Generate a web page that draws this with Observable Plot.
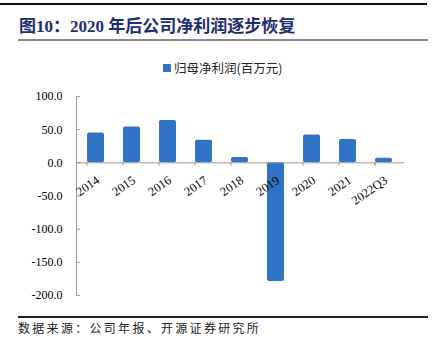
<!DOCTYPE html>
<html>
<head>
<meta charset="utf-8">
<script src="https://cdn.jsdelivr.net/npm/d3@7"></script>
<script src="https://cdn.jsdelivr.net/npm/@observablehq/plot@0.6"></script>
<style>
  html, body { margin: 0; padding: 0; background: #fff; }
  #wrap { position: relative; width: 437px; height: 354px; overflow: hidden; background: #fff; }
  .abs { position: absolute; }
  #topline { left: 0; top: 3px; width: 427px; height: 1.5px; background: #111; }
  #title { left: 19px; top: 17px; font-family: "Liberation Serif", "Noto Sans CJK SC", serif; font-weight: bold; font-size: 17px; color: #1B2F72; white-space: nowrap; line-height: 20px; }
  #titleline { left: 18px; top: 39px; width: 410px; height: 2px; background: #8a8a8a; }
  #legend { left: 163px; top: 60px; font-family: "Noto Sans CJK SC", sans-serif; font-size: 12.5px; line-height: 16px; color: #222; white-space: nowrap; display: flex; align-items: center; }
  #legend .sw { display: inline-block; width: 8px; height: 8px; margin-right: 3px; }
  #chart { left: 0; top: 80px; }
  #capline { left: 18px; top: 316px; width: 410px; height: 1.5px; background: #222; }
  #caption { left: 18px; top: 320px; font-family: "Noto Sans CJK SC", sans-serif; font-size: 12px; letter-spacing: 2.3px; color: #222; white-space: nowrap; line-height: 16px; }
</style>
</head>
<body>
<div id="wrap">
  <div id="topline" class="abs"></div>
  <div id="title" class="abs"></div>
  <div id="titleline" class="abs"></div>
  <div id="legend" class="abs"></div>
  <div id="chart" class="abs"></div>
  <div id="capline" class="abs"></div>
  <div id="caption" class="abs"></div>
</div>
<script>
const titleText = "图10：2020 年后公司净利润逐步恢复";
const seriesName = "归母净利润(百万元)";
const captionText = "数据来源：公司年报、开源证券研究所";
const categories = ["2014", "2015", "2016", "2017", "2018", "2019", "2020", "2021", "2022Q3"];
const profit = [45, 54, 64, 34, 8, -179, 42, 35, 7];
const yTicks = [100, 50, 0, -50, -100, -150, -200];
const barColor = "#3072C3";

document.getElementById("title").textContent = titleText;
document.getElementById("caption").textContent = captionText;
const lg = document.getElementById("legend");
const sw = document.createElement("span");
sw.className = "sw"; sw.style.background = barColor;
lg.appendChild(sw);
lg.appendChild(document.createTextNode(seriesName));

const data = categories.map((c, i) => ({cat: c, value: profit[i]}));

const W = 437, H = 230, mL = 76, mR = 33, mT = 16, mB = 15;
const bw = (W - mL - mR) / categories.length;
const edges = categories.map((c, i) => ({cat: c, dx: -bw / 2}))
  .concat([{cat: categories[categories.length - 1], dx: bw / 2}]);

const chart = Plot.plot({
  width: W,
  height: H,
  marginLeft: mL,
  marginRight: mR,
  marginTop: mT,
  marginBottom: mB,
  style: {fontFamily: "'Liberation Serif', serif", fontSize: "12px", color: "#000", background: "transparent"},
  x: {domain: categories, paddingInner: 0.52, paddingOuter: 0.26, axis: null},
  y: {domain: [-200, 100], axis: null},
  marks: [
    Plot.barY(data, {x: "cat", y: "value", fill: barColor, rx: 2}),
    Plot.frame({anchor: "left", stroke: "#9a9a9a"}),
    Plot.ruleY([0], {stroke: "#9a9a9a", strokeWidth: 1}),
    Plot.ruleX(edges, {x: "cat", dx: d => d.dx, y1: 0, y2: -5, stroke: "#9a9a9a"}),
    Plot.axisY(yTicks, {tickSize: 4, dx: 4, tickPadding: 14, stroke: "#9a9a9a", fill: "#000", tickFormat: d => d.toFixed(1), label: null, fontSize: 12}),
    Plot.text(data, {x: "cat", y: 0, text: "cat", textAnchor: "end", rotate: -35, dx: 2, dy: 16, fill: "#000", fontSize: 12.5})
  ]
});
document.getElementById("chart").appendChild(chart);
</script>
</body>
</html>
